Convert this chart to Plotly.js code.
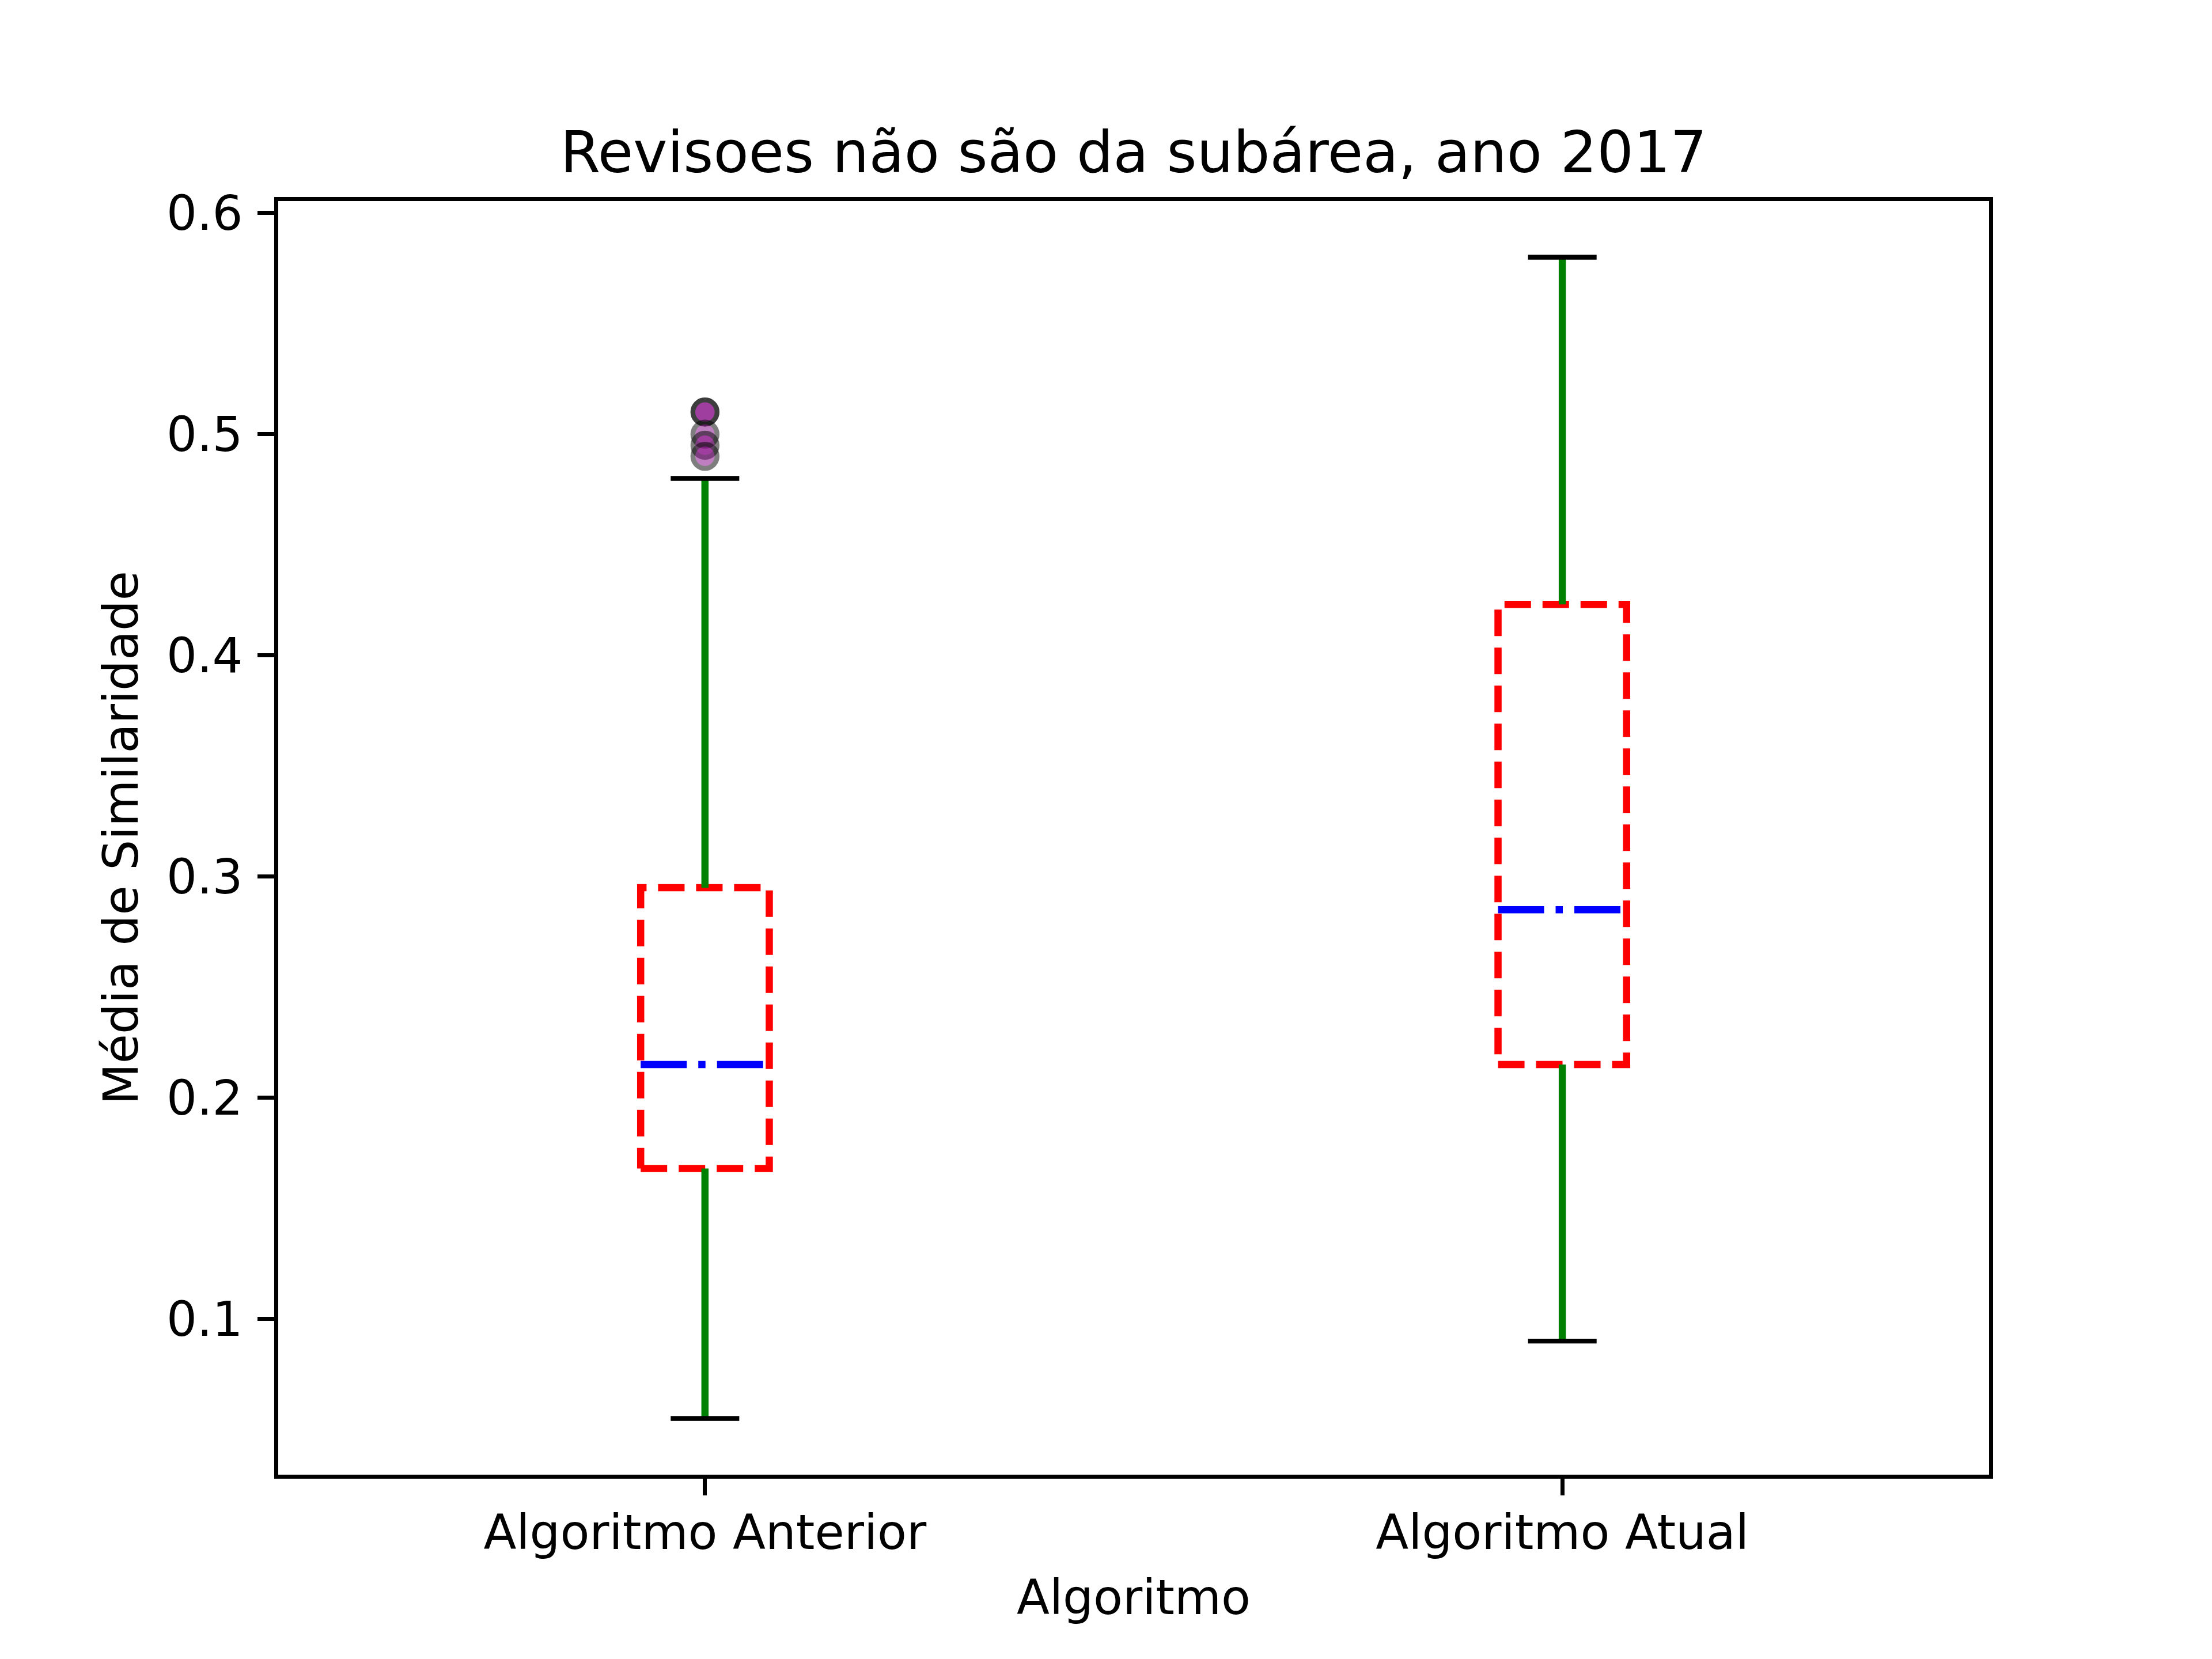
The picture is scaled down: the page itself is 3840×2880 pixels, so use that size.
<!DOCTYPE html>
<html>
<head>
<meta charset="utf-8">
<script src="https://cdn.plot.ly/plotly-3.0.1.min.js"></script>
<style>html,body{margin:0;padding:0;background:#fff;}</style>
</head>
<body>
<div id="chart" style="width:3840px;height:2880px;"></div>
<script>
// ---- Data ----
const categories   = ['Algoritmo Anterior', 'Algoritmo Atual'];
const whiskerLow   = [0.055, 0.090];
const q1           = [0.168, 0.215];
const median       = [0.215, 0.285];
const q3           = [0.295, 0.423];
const whiskerHigh  = [0.480, 0.580];
const outliers     = [[0.510, 0.510, 0.500, 0.495, 0.490], []];
const yTicks       = [0.1, 0.2, 0.3, 0.4, 0.5, 0.6];

// ---- Styles ----
const PT = 600 / 72;            // px per point at 600 dpi
const BOX_HALF = 0.075;         // half box width (data units)
const CAP_HALF = 0.04;          // half cap width
const FONT = 'DejaVu Sans, Liberation Sans, sans-serif';
const LW = 0.8 * PT;            // spine width
const H = LW / 2;               // half spine width (line drawn outside plot area)

const traces = [];
categories.forEach((cat, i) => {
  const p = i + 1;
  traces.push({
    type: 'scatter', mode: 'lines',
    x: [p - BOX_HALF, p + BOX_HALF, p + BOX_HALF, p - BOX_HALF, p - BOX_HALF],
    y: [q1[i], q1[i], q3[i], q3[i], q1[i]],
    line: {color: '#ff0000', width: 1.5 * PT, dash: '46px,20px'},
    hoverinfo: 'skip', showlegend: false
  });
  traces.push({
    type: 'scatter', mode: 'lines',
    x: [p - BOX_HALF, p + BOX_HALF],
    y: [median[i], median[i]],
    line: {color: '#0000ff', width: 1.5 * PT, dash: '80px,20px,12.5px,20px'},
    hoverinfo: 'skip', showlegend: false
  });
  traces.push({
    type: 'scatter', mode: 'lines',
    x: [p, p, null, p, p],
    y: [q1[i], whiskerLow[i], null, q3[i], whiskerHigh[i]],
    line: {color: '#008000', width: 1.5 * PT},
    hoverinfo: 'skip', showlegend: false
  });
  traces.push({
    type: 'scatter', mode: 'lines',
    x: [p - CAP_HALF, p + CAP_HALF, null, p - CAP_HALF, p + CAP_HALF],
    y: [whiskerLow[i], whiskerLow[i], null, whiskerHigh[i], whiskerHigh[i]],
    line: {color: '#000000', width: 1 * PT},
    hoverinfo: 'skip', showlegend: false
  });
  if (outliers[i].length) {
    traces.push({
      type: 'scatter', mode: 'markers',
      x: outliers[i].map(() => p),
      y: outliers[i],
      marker: {symbol: 'circle', size: 42, color: '#800080', opacity: 0.5,
               line: {color: '#000000', width: 1 * PT}},
      hoverinfo: 'skip', showlegend: false, cliponaxis: false
    });
  }
});

// axes box in matplotlib: x 480..3456, y 346..2563 (spine centres)
const xPxPerUnit = (3456 - 480) / 2;
const yPxPerUnit = (2563.2 - 345.6) / (0.60625 - 0.02875);

const layout = {
  width: 3840, height: 2880,
  paper_bgcolor: '#ffffff', plot_bgcolor: '#ffffff',
  margin: {l: 480 + H, r: 384 + H, t: 345.6 + H, b: 316.8 + H, pad: 0},
  font: {family: FONT, size: 83.3, color: '#000000'},
  showlegend: false,
  title: {
    text: 'Revisoes não são da subárea, ano 2017',
    font: {family: FONT, size: 100, color: '#000000'},
    xref: 'paper', x: 0.5, xanchor: 'center',
    yref: 'paper', y: 1, yanchor: 'bottom',
    pad: {b: 50}
  },
  xaxis: {
    range: [0.5 + H / xPxPerUnit, 2.5 - H / xPxPerUnit],
    tickmode: 'array', tickvals: categories.map((c, i) => i + 1), ticktext: categories,
    ticks: 'outside', ticklen: 3.5 * PT, tickwidth: LW, tickcolor: '#000',
    showline: true, mirror: true, linecolor: '#000', linewidth: LW,
    showgrid: false, zeroline: false,
    ticklabelstandoff: -7,
    tickfont: {family: FONT, size: 83.3, color: '#000'},
    title: {text: 'Algoritmo', font: {family: FONT, size: 83.3, color: '#000'}, standoff: 38}
  },
  yaxis: {
    range: [0.02875 + H / yPxPerUnit, 0.60625 - H / yPxPerUnit],
    tickmode: 'array', tickvals: yTicks, ticktext: yTicks.map(v => v.toFixed(1)),
    ticks: 'outside', ticklen: 3.5 * PT, tickwidth: LW, tickcolor: '#000',
    showline: true, mirror: true, linecolor: '#000', linewidth: LW,
    showgrid: false, zeroline: false,
    ticklabelstandoff: 9,
    tickfont: {family: FONT, size: 83.3, color: '#000'},
    title: {text: 'Média de Similaridade', font: {family: FONT, size: 83.3, color: '#000'}, standoff: 24}
  }
};

Plotly.newPlot('chart', traces, layout, {staticPlot: true, displayModeBar: false});
</script>
</body>
</html>
